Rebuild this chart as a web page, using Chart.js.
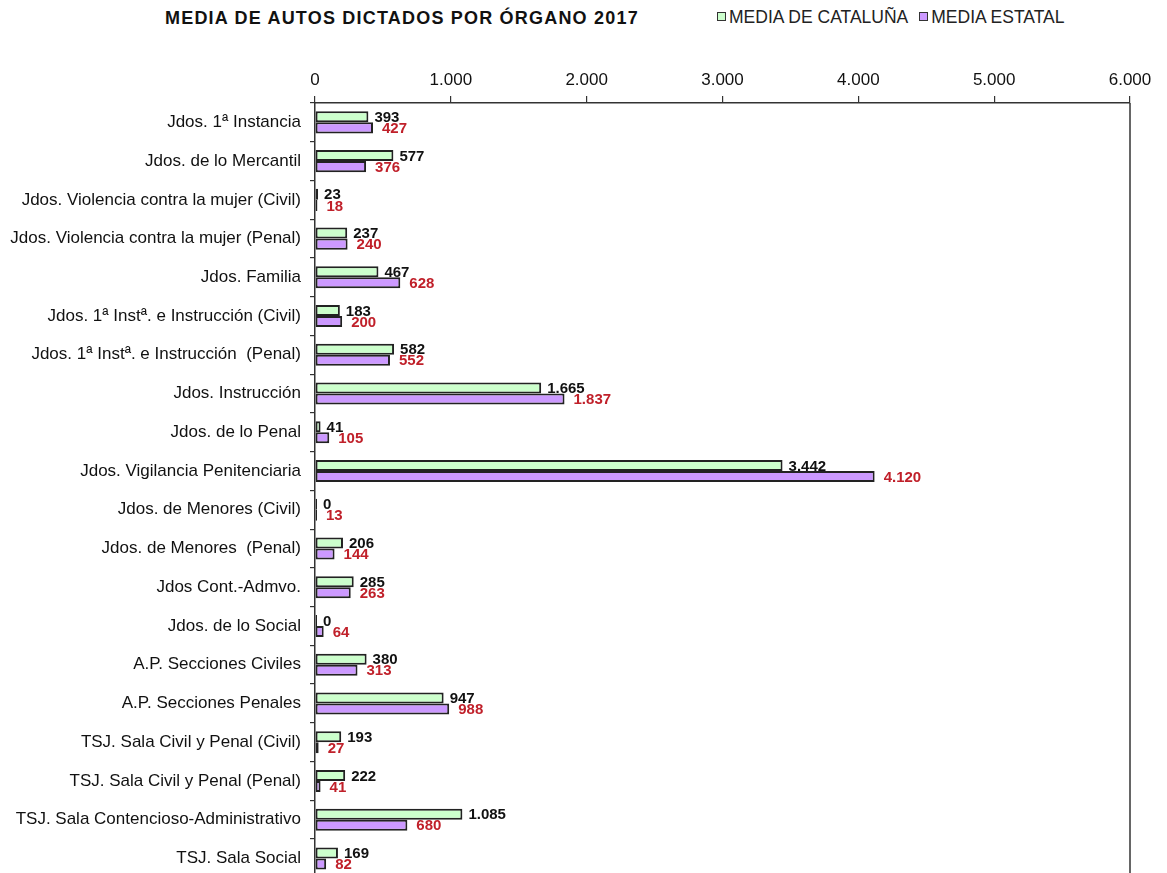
<!DOCTYPE html>
<html>
<head>
<meta charset="utf-8">
<script src="https://cdn.jsdelivr.net/npm/chart.js@4/dist/chart.umd.min.js"></script>
<style>
  html, body { margin: 0; padding: 0; background: #fff; }
  #wrap { position: relative; width: 1167px; height: 873px; overflow: hidden; }
  #title { position: absolute; left: 165px; top: 8px; font: bold 18px "Liberation Sans", Arial, sans-serif; letter-spacing: 1.2px; color: #111; white-space: nowrap; }
  #legend { position: absolute; left: 717px; top: 7px; font: 17.5px "Liberation Sans", Arial, sans-serif; color: #222; white-space: nowrap; }
  #legend span.item { margin-right: 11px; }
  #legend i { display: inline-block; width: 7px; height: 7px; border: 1.5px solid #333; margin-right: 3px; vertical-align: 2px; }
  canvas { position: absolute; left: 0; top: 0; }
</style>
</head>
<body>
<div id="wrap">
  <div id="title">MEDIA DE AUTOS DICTADOS POR ÓRGANO 2017</div>
  <div id="legend"><span class="item"><i style="background:#CCFFCC"></i>MEDIA DE CATALUÑA</span><span class="item"><i style="background:#CC99FF"></i>MEDIA ESTATAL</span></div>
  <canvas id="c" width="1167" height="897"></canvas>
</div>
<script>
const categories = [
  "Jdos. 1ª Instancia",
  "Jdos. de lo Mercantil",
  "Jdos. Violencia contra la mujer (Civil)",
  "Jdos. Violencia contra la mujer (Penal)",
  "Jdos. Familia",
  "Jdos. 1ª Instª. e Instrucción (Civil)",
  "Jdos. 1ª Instª. e Instrucción  (Penal)",
  "Jdos. Instrucción",
  "Jdos. de lo Penal",
  "Jdos. Vigilancia Penitenciaria",
  "Jdos. de Menores (Civil)",
  "Jdos. de Menores  (Penal)",
  "Jdos Cont.-Admvo.",
  "Jdos. de lo Social",
  "A.P. Secciones Civiles",
  "A.P. Secciones Penales",
  "TSJ. Sala Civil y Penal (Civil)",
  "TSJ. Sala Civil y Penal (Penal)",
  "TSJ. Sala Contencioso-Administrativo",
  "TSJ. Sala Social"
];
const mediaCataluna = [393, 577, 23, 237, 467, 183, 582, 1665, 41, 3442, 0, 206, 285, 0, 380, 947, 193, 222, 1085, 169];
const mediaEstatal  = [427, 376, 18, 240, 628, 200, 552, 1837, 105, 4120, 13, 144, 263, 64, 313, 988, 27, 41, 680, 82];
const seriesNames = ["MEDIA DE CATALUÑA", "MEDIA ESTATAL"];
const xTicks = [0, 1000, 2000, 3000, 4000, 5000, 6000];

const fmt = v => String(Math.round(v)).replace(/\B(?=(\d{3})+(?!\d))/g, ".");
const FONT = '"Liberation Sans", Arial, sans-serif';

const labelPlugin = {
  id: 'vlabels',
  afterDatasetsDraw(chart) {
    const ctx = chart.ctx;
    ctx.save();
    ctx.font = 'bold 15px ' + FONT;
    ctx.textBaseline = 'middle';
    ctx.textAlign = 'left';
    chart.data.datasets.forEach((ds, di) => {
      const meta = chart.getDatasetMeta(di);
      meta.data.forEach((bar, i) => {
        ctx.fillStyle = di === 0 ? '#111' : '#C0202A';
        const off = di === 0 ? 6 : 9;
        ctx.fillText(fmt(ds.data[i]), bar.x + off, bar.y + 1);
      });
    });
    ctx.restore();
  }
};
const framePlugin = {
  id: 'frame',
  afterDraw(chart) {
    const a = chart.chartArea, ctx = chart.ctx;
    ctx.save();
    ctx.strokeStyle = '#333';
    ctx.lineWidth = 1.5;
    ctx.beginPath();
    ctx.moveTo(a.right, a.top);
    ctx.lineTo(a.right, a.bottom);
    ctx.stroke();
    ctx.restore();
  }
};

new Chart(document.getElementById('c'), {
  type: 'bar',
  data: {
    labels: categories,
    datasets: [
      { label: seriesNames[0], data: mediaCataluna, backgroundColor: '#CCFFCC', borderColor: '#222', borderWidth: 2, borderSkipped: false, minBarLength: 2 },
      { label: seriesNames[1], data: mediaEstatal, backgroundColor: '#CC99FF', borderColor: '#222', borderWidth: 2, borderSkipped: false, minBarLength: 2 }
    ]
  },
  options: {
    indexAxis: 'y',
    responsive: false,
    animation: false,
    maintainAspectRatio: false,
    layout: { padding: { left: 0, right: 37, top: 61, bottom: 0 } },
    datasets: { bar: { barPercentage: 1.0, categoryPercentage: 0.57 } },
    plugins: { legend: { display: false }, title: { display: false }, tooltip: { enabled: false } },
    scales: {
      x: {
        position: 'top',
        min: xTicks[0], max: xTicks[xTicks.length - 1],
        afterBuildTicks: s => { s.ticks = xTicks.map(v => ({ value: v })); },
        afterFit: s => { s.height = 42; },
        ticks: { callback: v => fmt(v), color: '#111', font: { size: 17, family: FONT }, padding: 5 },
        grid: { drawOnChartArea: false, drawTicks: true, tickLength: 7, color: '#333', lineWidth: 1.2 },
        border: { display: true, color: '#333', width: 1.5 }
      },
      y: {
        afterFit: s => { s.width = 315; },
        ticks: { color: '#111', font: { size: 17, family: FONT }, padding: 9, autoSkip: false },
        grid: { drawOnChartArea: false, drawTicks: true, tickLength: 5, offset: true, color: '#333', lineWidth: 1.2 },
        border: { display: true, color: '#333', width: 1.5 }
      }
    }
  },
  plugins: [labelPlugin, framePlugin]
});
</script>
</body>
</html>
